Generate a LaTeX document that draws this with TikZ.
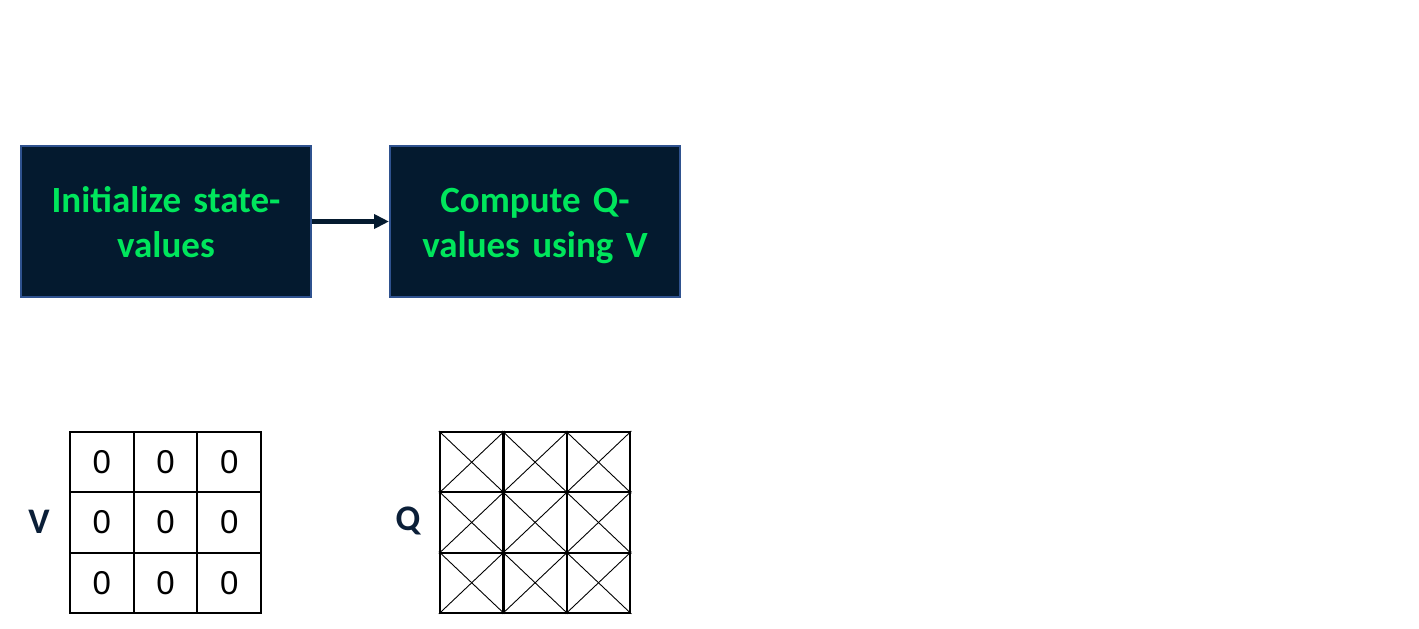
\documentclass[tikz,border=0pt]{standalone}
\usepackage{fontspec}
\setmainfont{Carlito}
\newfontfamily\numfont{Liberation Sans}
\usetikzlibrary{arrows.meta}

\definecolor{boxfill}{HTML}{041A2F}
\definecolor{boxline}{HTML}{2F528F}
\definecolor{boxtext}{HTML}{00E65C}
\definecolor{labtext}{HTML}{0B1F38}

\tikzset{
  stepbox/.style={rectangle, draw=boxline, fill=boxfill, line width=2pt,
    minimum width=290pt, minimum height=151pt, inner sep=0pt,
    text width=270pt, align=center, text=boxtext,
    text height=36pt, text depth=54pt,
    font=\fontsize{37}{45}\selectfont\bfseries},
  cell/.style={rectangle, draw=black, line width=2pt,
    minimum width=63.7pt, minimum height=60.3pt, inner sep=0pt,
    font=\numfont\fontsize{33}{36}\selectfont},
  gridlabel/.style={text=labtext, font=\fontsize{36}{40}\selectfont\bfseries}
}

\begin{document}
\begin{tikzpicture}[x=1pt,y=-1pt]
  \useasboundingbox (0,0) rectangle (1419,629);

  % the two steps
  \node[stepbox] (init)    at (166,221.5) {Initialize state-\\values};
  \node[stepbox] (compute) at (535,221.5) {Compute Q-\\values using V};
  \draw[-{Triangle[length=15pt,width=14pt]}, line width=4.5pt, draw=boxfill]
    (init) -- (compute);

  % V table
  \foreach \i in {1,2,3} {
    \foreach \j in {1,2,3} {
      \node[cell] (v\i\j) at ({70+63.7*(\i-0.5)},{432+60.3*(\j-0.5)}) {0};
    }
  }
  \node[gridlabel] (vlab) at (39,522) {V};

  % Q table
  \foreach \i in {1,2,3} {
    \foreach \j in {1,2,3} {
      \node[cell] (q\i\j) at ({440+63.4*(\i-0.5)},{432+60.3*(\j-0.5)}) {};
      \draw[line width=0.9pt] (q\i\j.north west) -- (q\i\j.south east);
      \draw[line width=0.9pt] (q\i\j.north east) -- (q\i\j.south west);
    }
  }
  \node[gridlabel] (qlab) at (408,521) {Q};

\end{tikzpicture}
\end{document}
